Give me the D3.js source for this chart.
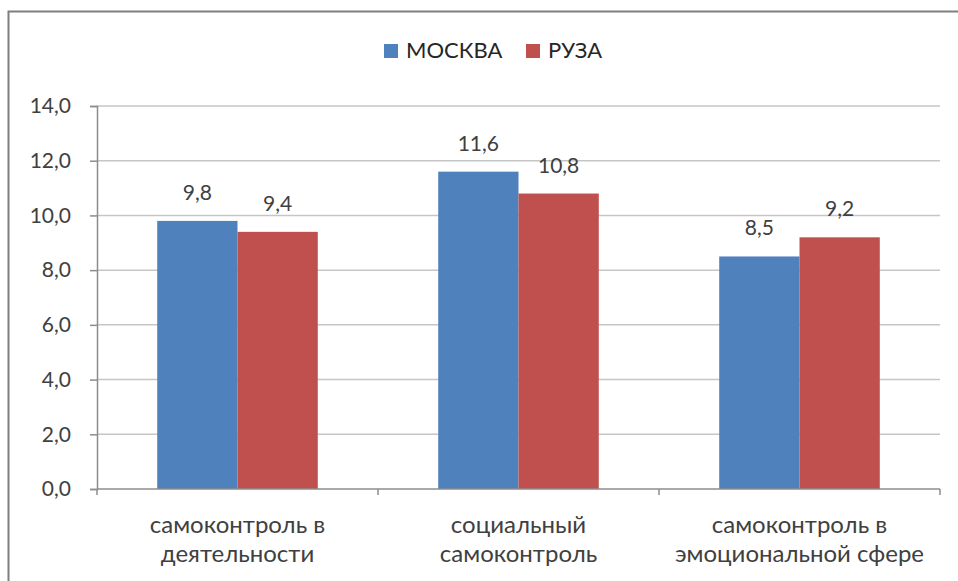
<!DOCTYPE html>
<html>
<head>
<meta charset="utf-8">
<script src="https://cdn.jsdelivr.net/npm/d3@7"></script>
<style>
  body { margin: 0; background: #fff; }
  svg { font-family: Lato, "Liberation Sans", sans-serif; }
</style>
</head>
<body>
<script>
// data
const categories = [["самоконтроль в", "деятельности"], ["социальный", "самоконтроль"], ["самоконтроль в", "эмоциональной сфере"]]
const seriesNames = ["МОСКВА", "РУЗА"]
const moscow = [9.8, 11.6, 8.5]
const ruza = [9.4, 10.8, 9.2]
const yTicks = [0, 2, 4, 6, 8, 10, 12, 14]
const colors = ["#4f81bd", "#c0504d"]

const svgWidth = 958, svgHeight = 581
const margin = {top: 106, right: 18, bottom: 92, left: 97}
const gWidth = svgWidth - margin.left - margin.right
const gHeight = svgHeight - margin.top - margin.bottom
const fmt = d => d3.format(".1f")(d).replace(".", ",")

const svg = d3.select("body").append("svg")
  .attr("width", svgWidth)
  .attr("height", svgHeight)

// outer frame
svg.append("path")
  .attr("d", "M8.5,600 L8.5,11.5 L970,11.5")
  .attr("fill", "none")
  .attr("stroke", "#7f7f7f")
  .attr("stroke-width", 2)

const g = svg.append("g").attr("transform", "translate(" + margin.left + "," + margin.top + ")")

const x0 = d3.scaleBand().domain(d3.range(categories.length)).range([0, gWidth])
const x1 = d3.scaleBand().domain(d3.range(seriesNames.length)).range([0, x0.bandwidth()]).paddingOuter(0.75)
const y = d3.scaleLinear().domain([0, 14]).range([gHeight, 0])

// gridlines
g.append("g").selectAll("line").data(yTicks.slice(1)).enter().append("line")
  .attr("x1", 0).attr("x2", gWidth)
  .attr("y1", d => y(d)).attr("y2", d => y(d))
  .attr("stroke", "#c6c6c6").attr("stroke-width", 1.5)

// y axis
const yAxis = d3.axisLeft(y).tickValues(yTicks).tickSize(7).tickPadding(19).tickFormat(fmt)
const ya = g.append("g").call(yAxis)
ya.select(".domain").attr("stroke", "#8c8c8c").attr("stroke-width", 1.5)
ya.selectAll(".tick line").attr("stroke", "#8c8c8c").attr("stroke-width", 1.5)
ya.selectAll(".tick text").attr("font-size", 21).attr("fill", "#404040").attr("font-family", "Lato, sans-serif")

// bars
const rows = categories.map((c, i) => [moscow[i], ruza[i]])
const groups = g.selectAll(".grp").data(rows).enter().append("g")
  .attr("transform", (d, i) => "translate(" + x0(i) + ",0)")
groups.selectAll("rect").data(d => d).enter().append("rect")
  .attr("x", (d, j) => x1(j))
  .attr("width", x1.bandwidth())
  .attr("y", d => y(d))
  .attr("height", d => gHeight - y(d))
  .attr("fill", (d, j) => colors[j])
groups.selectAll("text").data(d => d).enter().append("text")
  .attr("x", (d, j) => x1(j) + x1.bandwidth() / 2)
  .attr("y", d => y(d) - 21)
  .attr("text-anchor", "middle")
  .attr("font-size", 21)
  .attr("fill", "#404040")
  .text(fmt)

// x axis
const xa = g.append("g").attr("transform", "translate(0," + gHeight + ")")
xa.append("line").attr("x1", 0).attr("x2", gWidth).attr("stroke", "#8c8c8c").attr("stroke-width", 1.5)
xa.selectAll(".xt").data(d3.range(categories.length + 1)).enter().append("line")
  .attr("x1", i => i * x0.step()).attr("x2", i => i * x0.step())
  .attr("y1", 0).attr("y2", 6)
  .attr("stroke", "#8c8c8c").attr("stroke-width", 1.5)
const labels = xa.selectAll(".xl").data(categories).enter().append("text")
  .attr("text-anchor", "middle")
  .attr("font-size", 24)
  .attr("fill", "#404040")
  .attr("transform", (d, i) => "translate(" + (x0(i) + x0.bandwidth() / 2) + ",0)")
labels.selectAll("tspan").data(d => d).enter().append("tspan")
  .attr("x", 0)
  .attr("y", (d, k) => 44 + k * 29)
  .text(d => d)

// legend
const legend = svg.append("g").attr("transform", "translate(384,44)")
const items = legend.selectAll("g").data(seriesNames).enter().append("g")
  .attr("transform", (d, i) => "translate(" + (i * 142) + ",0)")
items.append("rect").attr("width", 14).attr("height", 14).attr("fill", (d, i) => colors[i])
items.append("text").attr("x", 22).attr("y", 14)
  .attr("font-size", 22).attr("fill", "#262626")
  .text(d => d)
</script>
</body>
</html>
